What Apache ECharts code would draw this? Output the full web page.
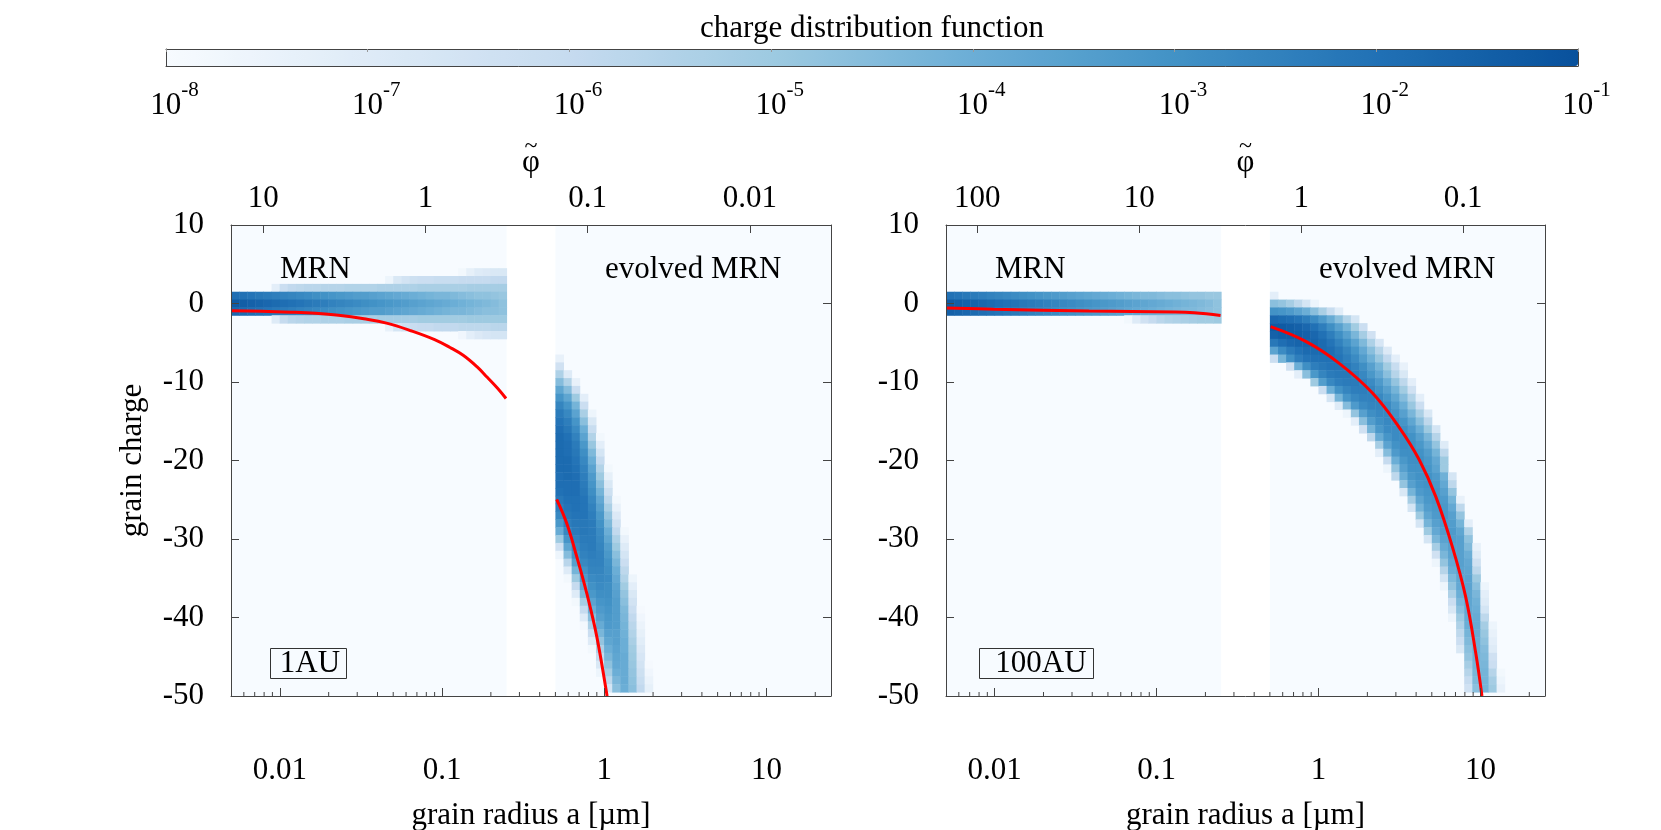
<!DOCTYPE html>
<html><head><meta charset="utf-8">
<script src="https://cdn.jsdelivr.net/npm/echarts@6/dist/echarts.min.js"></script>
<style>html,body{margin:0;padding:0;background:#fff}#c{width:1661px;height:830px}</style>
</head><body><div id="c"></div>
<script>
// ---------------- data ----------------
const colorbarExponents = [-8, -7, -6, -5, -4, -3, -2, -1];
const bluesScale = ['#f7fbff','#deebf7','#c6dbef','#9ecae1','#6baed6','#4292c6','#2171b5','#08519c'];
const radiusRange = [0.005, 25];          // grain radius a [um]
const chargeRange = [-50, 10];            // grain charge
const chargeTicks = 10;
const phiConst = { left: 0.079, right: 0.78 };   // phi~ = C / a  (top axis)
const mrnRange = [0.005, 0.25];
const evolvedRange = [0.5, 25];
const binDex = 0.05;                      // width of radius bins in dex
// rows: [charge q, first radius bin, values as tenths of -log10(f)]
const leftMRN = [
  [4, 28, [78,73,70,69,68,68]],
  [3, 19, [76,68,65,63,62,62,61,61,61,60,60,60,60,59,59]],
  [2, 5, [72,62,59,58,57,57,56,56,56,55,55,55,55,54,54,54,54,54,53,53,53,53,53,53,52,52,52,52,52]],
  [1, 0, [19,20,21,22,23,24,25,26,27,28,29,30,31,32,33,34,34,35,36,37,38,39,40,41,42,43,43,44,45,46,47,47,48,49]],
  [0, 0, [13,14,15,16,17,18,19,20,21,22,23,24,25,26,27,28,29,30,31,32,33,34,35,36,37,38,39,40,41,42,43,44,45,47]],
  [-1, 0, [17,18,19,20,21,22,23,24,25,26,27,28,29,30,31,32,33,34,34,35,36,37,38,39,40,41,42,43,43,44,45,46,46,47]],
  [-2, 5, [70,60,57,56,55,55,54,54,54,53,53,53,53,52,52,52,52,52,51,51,51,51,51,51,50,50,50,50,50]],
  [-3, 19, [74,66,63,61,60,60,59,59,59,58,58,58,58,57,57]],
  [-4, 28, [77,72,69,67,66,66]]
];
const rightMRN = [
  [1, 0, [20,21,22,23,24,25,26,27,28,29,30,31,32,33,34,35,36,37,38,39,40,41,42,43,44,44,45,46,46,47,48,48,49,49]],
  [0, 0, [13,14,15,16,17,18,19,20,21,22,23,24,25,26,27,28,29,30,31,32,33,34,35,36,37,38,39,40,41,42,43,44,45,47]],
  [-1, 0, [15,16,17,18,19,20,21,22,23,24,25,26,27,28,29,30,31,32,33,34,35,36,37,38,39,40,41,42,43,44,44,45,46,47]],
  [-2, 22, [78,70,64,60,57,55,54,53,52,51,51,50]]
];
const leftEvolved = [
  [-7,0,[74]], [-8,0,[64]], [-9,0,[54,70]], [-10,0,[45,55,74]], [-11,0,[37,45,62]],
  [-12,0,[31,37,50,72]], [-13,0,[26,31,42,62]], [-14,0,[23,27,36,53,76]], [-15,0,[21,24,31,46,68]],
  [-16,0,[19,22,28,40,61]], [-17,0,[18,20,25,36,55,78]], [-18,0,[18,19,23,32,49,72]],
  [-19,0,[18,19,22,29,44,66]], [-20,0,[18,18,21,27,40,60]], [-21,0,[18,18,20,25,36,55,78]],
  [-22,0,[19,18,19,24,33,50,73]], [-23,0,[19,19,19,23,31,46,68]], [-24,0,[20,19,19,22,29,42,63]],
  [-25,0,[22,20,20,21,27,38,58,78]], [-26,0,[24,21,20,21,25,35,53,74]], [-27,0,[27,22,21,21,24,32,48,69]],
  [-28,0,[32,24,22,22,23,30,44,64]], [-29,0,[39,27,23,22,23,28,40,59,78]], [-30,0,[50,31,25,23,23,27,37,54,74]],
  [-31,0,[64,37,27,24,23,26,34,50,70]], [-32,0,[76,45,30,25,24,25,32,46,66]], [-33,1,[57,35,27,25,25,30,43,62]],
  [-34,1,[70,42,30,26,26,29,40,58]], [-35,1,[78,50,33,28,27,28,38,55,76]], [-36,2,[60,38,30,28,29,36,51,72]],
  [-37,2,[70,44,32,29,29,35,48,68]], [-38,2,[78,52,36,31,30,34,46,65]], [-39,3,[60,40,33,31,34,44,62,79]],
  [-40,3,[70,46,35,32,34,43,59,77]], [-41,3,[78,54,39,33,34,42,57,75]], [-42,4,[62,43,35,35,41,55,73]],
  [-43,4,[70,48,37,35,40,53,71]], [-44,4,[78,54,40,36,40,51,69]], [-45,5,[60,43,37,39,50,67]],
  [-46,5,[68,47,38,39,49,65,79]], [-47,5,[76,52,40,39,48,63,77]], [-48,6,[58,43,39,47,61,75]],
  [-49,6,[66,46,40,46,59,73]]
];
const rightEvolved = [
  [1,0,[72]], [0,0,[46,48,52,58,66,76]], [-1,0,[30,31,33,36,40,46,53,61,71]],
  [-2,0,[17,18,19,21,24,28,33,39,46,55,66]], [-3,0,[13,13,14,15,17,20,24,29,35,42,51,62]],
  [-4,0,[15,14,14,14,15,17,20,24,29,35,43,52,64]], [-5,0,[22,19,17,16,16,16,18,21,25,30,36,44,54,67]],
  [-6,0,[36,28,23,20,18,18,18,19,22,26,31,38,46,56,69]], [-7,0,[62,42,30,24,21,20,20,20,21,24,28,34,41,49,59,72]],
  [-8,2,[64,40,29,24,22,21,21,22,25,29,35,42,51,61,74]], [-9,3,[72,46,32,26,23,22,22,24,27,32,38,46,56,68]],
  [-10,5,[50,34,27,24,23,23,25,28,33,40,48,58,72]], [-11,6,[62,40,30,26,24,24,26,30,35,42,51,64]],
  [-12,7,[66,42,31,27,25,25,27,31,37,45,55,72]], [-13,8,[70,45,33,28,26,26,28,33,40,49,62]],
  [-14,9,[76,48,35,29,27,27,30,35,43,53,68]], [-15,10,[72,46,34,29,27,28,31,37,46,58]],
  [-16,11,[64,42,32,28,28,29,33,40,50,66]], [-17,12,[58,39,31,28,28,30,35,43,56]],
  [-18,13,[52,36,30,28,29,32,38,48,70]], [-19,13,[72,45,33,29,29,30,34,42,58]],
  [-20,14,[60,40,32,29,29,32,38,50]], [-21,14,[76,48,35,30,30,31,36,50]],
  [-22,15,[58,40,32,30,30,33,41,66]], [-23,16,[48,35,31,30,32,38,58]],
  [-24,16,[68,42,33,31,31,35,48]], [-25,17,[52,37,32,31,33,42,74]],
  [-26,17,[66,42,34,32,32,38,58]], [-27,18,[50,37,33,32,35,48]],
  [-28,18,[66,42,35,33,34,42,72]], [-29,19,[50,38,34,33,37,55]],
  [-30,19,[66,43,36,34,35,47]], [-31,20,[52,39,35,35,44,74]],
  [-32,20,[64,43,36,35,40,70]], [-33,20,[76,48,38,35,38,64]],
  [-34,21,[56,40,36,37,58]], [-35,21,[66,44,37,36,50]], [-36,21,[76,48,38,36,46,76]],
  [-37,22,[54,40,37,43,72]], [-38,22,[62,43,37,41,70]], [-39,22,[68,46,38,40,66]],
  [-40,22,[76,50,39,39,58]], [-41,23,[54,40,39,52,76]], [-42,23,[58,42,39,49,74]],
  [-43,23,[62,44,40,47,72]], [-44,23,[68,46,40,45,70]], [-45,24,[48,41,44,64]],
  [-46,24,[52,42,43,62]], [-47,24,[56,43,42,56,78]], [-48,24,[60,44,42,52,76]],
  [-49,24,[64,46,42,50,74]]
];
// mean charge curves (red), [a, q]
const leftMrnMean = [[0.005,-0.92],[0.0077,-0.98],[0.0117,-1.1],[0.0166,-1.25],[0.023,-1.5],[0.033,-1.95],[0.0455,-2.5],[0.065,-3.5],[0.09,-4.6],[0.112,-5.6],[0.135,-6.6],[0.164,-8.05],[0.19,-9.4],[0.22,-10.8],[0.248,-12.1]];
const leftEvolvedMean = [[0.509,-24.95],[0.587,-28.0],[0.677,-32.25],[0.78,-36.9],[0.899,-42.4],[1.036,-49.7],[1.04,-50]];
const rightMrnMean = [[0.005,-0.56],[0.00986,-0.73],[0.0383,-0.96],[0.13,-1.07],[0.171,-1.18],[0.248,-1.52]];
const rightEvolvedMean = [[0.505,-2.95],[0.838,-4.86],[1.34,-7.62],[2.15,-11.4],[3.15,-15.8],[4.18,-19.9],[5.29,-24.6],[6.7,-31.0],[8.1,-37.4],[9.35,-44.6],[10.2,-50]];
const regionLabels = { mrn: 'MRN', evolved: 'evolved MRN', left: '1AU', right: '100AU' };

// ---------------- build ----------------
const FONT = 'Liberation Serif';
const FS = 31;
function buildCells(rows, aStart, aEnd) {
  const out = [];
  rows.forEach(([q, j0, vals]) => {
    vals.forEach((v, i) => {
      const j = j0 + i;
      const lo = aStart * Math.pow(10, binDex * j);
      const hi = Math.min(aEnd, aStart * Math.pow(10, binDex * (j + 1)));
      const lv = Math.max(-8, Math.min(-1, -v / 10));
      out.push([lo, hi, q, lv]);
    });
  });
  return out;
}
const cellItem = (params, api) => {
  const p0 = api.coord([api.value(0), api.value(2) + 0.5]);
  const p1 = api.coord([api.value(1), api.value(2) - 0.5]);
  return { type: 'rect', shape: { x: p0[0], y: p0[1], width: p1[0] - p0[0] + 0.5, height: p1[1] - p0[1] + 0.5 },
           style: { fill: api.visual('color') } };
};
const bgItem = (params, api) => {
  const p0 = api.coord([api.value(0), chargeRange[1]]);
  const p1 = api.coord([api.value(1), chargeRange[0]]);
  return { type: 'rect', shape: { x: p0[0], y: p0[1], width: p1[0] - p0[0], height: p1[1] - p0[1] },
           style: { fill: bluesScale[0] } };
};
const minorTickItem = (params, api) => {
  const p = api.coord([api.value(0), chargeRange[0]]);
  return { type: 'line', shape: { x1: p[0], y1: p[1], x2: p[0], y2: p[1] - 4 }, style: { stroke: '#444', lineWidth: 1 } };
};
const minorTicks = [];
for (let e = -3; e <= 1; e++) for (let m = 2; m <= 9; m++) {
  const v = m * Math.pow(10, e);
  if (v > radiusRange[0] && v < radiusRange[1]) minorTicks.push([v, chargeRange[0]]);
}
const fmtNum = v => String(+(+v).toPrecision(6));
const AX = '#444';
function bottomAxis(g) {
  return { gridIndex: g, type: 'log', logBase: 10, min: radiusRange[0], max: radiusRange[1], position: 'bottom', z: 10,
    axisLine: { show: true, onZero: false, lineStyle: { color: AX, width: 1 } },
    axisTick: { show: true, inside: true, length: 8, lineStyle: { color: AX } },
    axisLabel: { margin: 59, fontSize: FS, fontFamily: FONT, color: '#000', formatter: fmtNum, showMinLabel: false, showMaxLabel: false },
    splitLine: { show: false }, minorTick: { show: false },
    name: 'grain radius a [\u00b5m]', nameLocation: 'middle', nameGap: 104,
    nameTextStyle: { fontSize: FS, fontFamily: FONT, color: '#000' } };
}
function topAxis(g, C) {
  return { gridIndex: g, type: 'log', logBase: 10, inverse: true, min: C / radiusRange[1], max: C / radiusRange[0], position: 'top', z: 10,
    axisLine: { show: true, onZero: false, lineStyle: { color: AX, width: 1 } },
    axisTick: { show: true, inside: true, length: 8, lineStyle: { color: AX } },
    axisLabel: { margin: 11, fontSize: FS, fontFamily: FONT, color: '#000', formatter: fmtNum, showMinLabel: false, showMaxLabel: false },
    splitLine: { show: false },
    name: '{t|~}\n{p|\u03c6}', nameLocation: 'middle', nameGap: 46,
    nameTextStyle: { fontSize: FS, fontFamily: FONT, color: '#000',
      rich: { t: { fontSize: 24, fontFamily: FONT, lineHeight: 2, align: 'center' }, p: { fontSize: FS, fontFamily: FONT, lineHeight: 30, align: 'center' } } } };
}
function leftY(g, withName) {
  return { gridIndex: g, type: 'value', min: chargeRange[0], max: chargeRange[1], interval: chargeTicks, position: 'left', z: 10,
    axisLine: { show: true, onZero: false, lineStyle: { color: AX, width: 1 } },
    axisTick: { show: true, inside: true, length: 8, lineStyle: { color: AX } },
    axisLabel: { margin: 27, fontSize: FS, fontFamily: FONT, color: '#000' },
    splitLine: { show: false },
    name: withName ? 'grain charge' : '', nameLocation: 'middle', nameGap: 83,
    nameTextStyle: { fontSize: FS, fontFamily: FONT, color: '#000' } };
}
function rightY(g) {
  return { gridIndex: g, type: 'value', min: chargeRange[0], max: chargeRange[1], interval: chargeTicks, position: 'right', z: 10,
    axisLine: { show: true, onZero: false, lineStyle: { color: AX, width: 1 } },
    axisTick: { show: true, inside: true, length: 8, lineStyle: { color: AX } },
    axisLabel: { show: false }, splitLine: { show: false } };
}
const cbAxisBase = { gridIndex: 2, type: 'value', min: colorbarExponents[0], max: colorbarExponents[colorbarExponents.length - 1], interval: 1, z: 10,
  splitLine: { show: false } };

const leftCells = buildCells(leftMRN, mrnRange[0], mrnRange[1]).concat(buildCells(leftEvolved, evolvedRange[0], evolvedRange[1]));
const rightCells = buildCells(rightMRN, mrnRange[0], mrnRange[1]).concat(buildCells(rightEvolved, evolvedRange[0], evolvedRange[1]));
const regions = [[mrnRange[0], mrnRange[1]], [evolvedRange[0], evolvedRange[1]]];

const redLine = (data, xi, yi) => ({ type: 'line', xAxisIndex: xi, yAxisIndex: yi, data, smooth: 0.4, showSymbol: false, symbol: 'none',
  lineStyle: { color: '#ff0000', width: 3 }, z: 6, silent: true, clip: true });

const txt = (x, y, text, align) => ({ type: 'text', x, y, z: 50,
  style: { text, fontSize: FS, fontFamily: FONT, fill: '#000', align: align || 'left', verticalAlign: 'middle' } });

const gridBase = { show: false, containLabel: false, outerBoundsMode: 'none' };
const option = {
  animation: false,
  backgroundColor: '#fff',
  textStyle: { fontFamily: FONT },
  grid: [
    Object.assign({ left: 231, top: 225, width: 600, height: 471 }, gridBase),
    Object.assign({ left: 946, top: 225, width: 599, height: 471 }, gridBase),
    Object.assign({ left: 166, top: 49, width: 1412, height: 17 }, gridBase)
  ],
  xAxis: [
    bottomAxis(0), topAxis(0, phiConst.left), bottomAxis(1), topAxis(1, phiConst.right),
    Object.assign({}, cbAxisBase, { position: 'bottom',
      axisLine: { show: true, onZero: false, lineStyle: { color: AX } }, axisTick: { show: false },
      axisLabel: { margin: 14, formatter: v => '{p| }{b|10}{s|' + v + '}',
        rich: { p: { width: 17, fontSize: 21, fontFamily: FONT }, b: { fontSize: FS, fontFamily: FONT, color: '#000', padding: [10, 0, 0, 0] },
                s: { fontSize: 21, fontFamily: FONT, color: '#000', verticalAlign: 'top' } } } }),
    Object.assign({}, cbAxisBase, { position: 'top',
      axisLine: { show: true, onZero: false, lineStyle: { color: AX } }, axisTick: { show: true, inside: true, length: 3, lineStyle: { color: '#999' } },
      axisLabel: { show: false } })
  ],
  yAxis: [
    leftY(0, true), rightY(0), leftY(1, false), rightY(1),
    { gridIndex: 2, type: 'value', min: 0, max: 1, position: 'left', z: 10, axisLine: { show: true, onZero: false, lineStyle: { color: AX } },
      axisTick: { show: false }, axisLabel: { show: false }, splitLine: { show: false } },
    { gridIndex: 2, type: 'value', min: 0, max: 1, position: 'right', z: 10, axisLine: { show: true, onZero: false, lineStyle: { color: AX } },
      axisTick: { show: false }, axisLabel: { show: false }, splitLine: { show: false } }
  ],
  visualMap: {
    type: 'continuous', min: colorbarExponents[0], max: colorbarExponents[colorbarExponents.length - 1], dimension: 3,
    seriesIndex: [2, 3], inRange: { color: bluesScale }, orient: 'horizontal', left: 166, top: 49,
    itemWidth: 17, itemHeight: 1412, padding: 0, calculable: false, hoverLink: false, realtime: false, show: true, z: 2
  },
  series: [
    { type: 'custom', xAxisIndex: 0, yAxisIndex: 0, data: regions, renderItem: bgItem, encode: { x: [0, 1] }, z: 1, silent: true, clip: true },
    { type: 'custom', xAxisIndex: 2, yAxisIndex: 2, data: regions, renderItem: bgItem, encode: { x: [0, 1] }, z: 1, silent: true, clip: true },
    { type: 'custom', xAxisIndex: 0, yAxisIndex: 0, data: leftCells, renderItem: cellItem, encode: { x: [0, 1], y: 2 }, z: 2, silent: true, clip: true },
    { type: 'custom', xAxisIndex: 2, yAxisIndex: 2, data: rightCells, renderItem: cellItem, encode: { x: [0, 1], y: 2 }, z: 2, silent: true, clip: true },
    { type: 'custom', xAxisIndex: 0, yAxisIndex: 0, data: minorTicks, renderItem: minorTickItem, encode: { x: 0, y: 1 }, z: 8, silent: true },
    { type: 'custom', xAxisIndex: 2, yAxisIndex: 2, data: minorTicks, renderItem: minorTickItem, encode: { x: 0, y: 1 }, z: 8, silent: true },
    redLine(leftMrnMean, 0, 0), redLine(leftEvolvedMean, 0, 0),
    redLine(rightMrnMean, 2, 2), redLine(rightEvolvedMean, 2, 2)
  ],
  graphic: [
    txt(872, 29, 'charge distribution function', 'center'),
    txt(280, 270, regionLabels.mrn), txt(605, 270, regionLabels.evolved),
    txt(995, 270, regionLabels.mrn), txt(1319, 270, regionLabels.evolved),
    { type: 'rect', z: 50, shape: { x: 270.5, y: 648.5, width: 76, height: 30 }, style: { fill: 'none', stroke: '#333', lineWidth: 1 } },
    { type: 'rect', z: 50, shape: { x: 979.5, y: 648.5, width: 114, height: 30 }, style: { fill: 'none', stroke: '#333', lineWidth: 1 } },
    txt(310, 664, regionLabels.left, 'center'), txt(1041, 664, regionLabels.right, 'center')
  ]
};
const chart = echarts.init(document.getElementById('c'), null, { renderer: 'canvas' });
chart.setOption(option);
</script></body></html>
